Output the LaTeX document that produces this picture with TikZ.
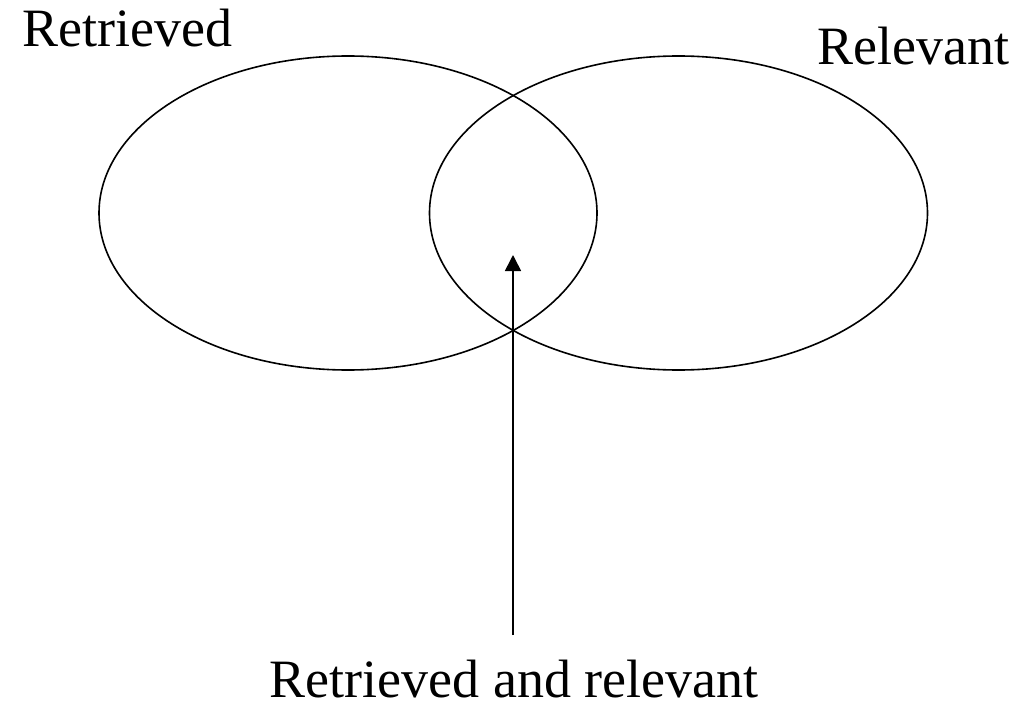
\documentclass[tikz,border=0pt]{standalone}
\usepackage{fontspec}
\setmainfont{Liberation Serif}
\usetikzlibrary{shapes.geometric,arrows.meta}
\begin{document}
\begin{tikzpicture}[x=1pt,y=-1pt,
  setellipse/.style={draw,ellipse,line width=1.6pt,minimum width=498pt,minimum height=314pt,inner sep=0pt,outer sep=0pt},
  lbl/.style={inner sep=0pt,font=\fontsize{54}{60}\selectfont},
  arr/.style={line width=1.6pt,-{Triangle[length=16pt,width=16pt]}}]
\useasboundingbox (0,0) rectangle (1021,709);
\node[setellipse] (ret) at (348,213) {};
\node[setellipse] (rel) at (678.5,213) {};
\node[lbl,anchor=base west] (tret) at (22,47) {Retrieved};
\node[lbl,anchor=base east] (trel) at (1010,65) {Relevant};
\node[lbl,anchor=base] (tboth) at (514,697) {Retrieved and relevant};
\coordinate (s) at (513,635);
\coordinate (t) at (513,255);
\draw[arr] (s) -- (t);
\end{tikzpicture}
\end{document}
